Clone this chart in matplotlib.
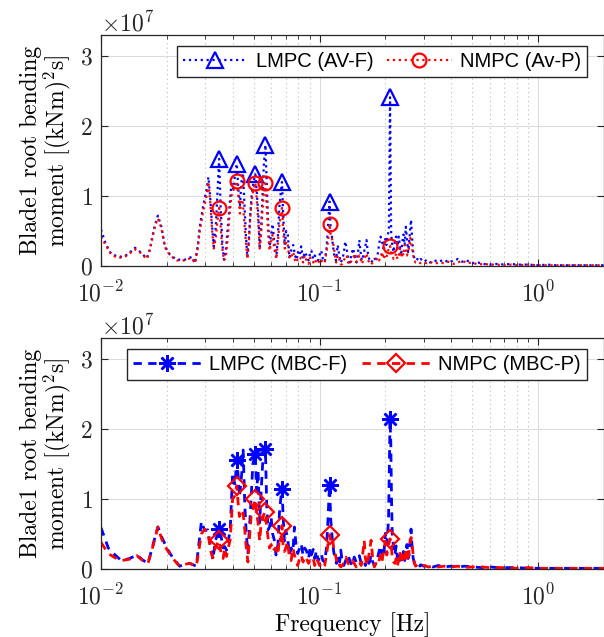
import numpy as np
import matplotlib
matplotlib.use("Agg")
import matplotlib.pyplot as plt
from matplotlib.lines import Line2D
from matplotlib.ticker import LogLocator, NullFormatter

plt.rcParams['font.family'] = 'serif'
plt.rcParams['font.serif'] = ['cmr10']
plt.rcParams['mathtext.fontset'] = 'cm'
plt.rcParams['axes.formatter.use_mathtext'] = True

SCALE = 1e7

# --- top panel: AV cases (values in 1e7 (kNm)^2 s)
f_av = [0.0100, 0.0105, 0.0111, 0.0118, 0.0126, 0.0133, 0.0143, 0.0150, 0.0156, 0.0162,
        0.0167, 0.0172, 0.0177, 0.0182, 0.0189, 0.0196, 0.0207, 0.0222, 0.0242, 0.0260,
        0.0269, 0.0277, 0.0283, 0.0293, 0.0304, 0.0310, 0.0316, 0.0322, 0.0328, 0.0335,
        0.0341, 0.0347, 0.0353, 0.0359, 0.0365, 0.0372, 0.0380, 0.0388, 0.0395, 0.0403,
        0.0410, 0.0418, 0.0425, 0.0432, 0.0439, 0.0446, 0.0453, 0.0460, 0.0467, 0.0474,
        0.0482, 0.0490, 0.0499, 0.0508, 0.0516, 0.0524, 0.0532, 0.0540, 0.0548, 0.0556,
        0.0565, 0.0573, 0.0581, 0.0590, 0.0600, 0.0610, 0.0620, 0.0634, 0.0645, 0.0655,
        0.0664, 0.0673, 0.0682, 0.0693, 0.0703, 0.0715, 0.0728, 0.0745, 0.0757, 0.0772,
        0.0785, 0.0795, 0.0810, 0.0824, 0.0840, 0.0855, 0.0871, 0.0890, 0.0905, 0.0917,
        0.0935, 0.0950, 0.0967, 0.0985, 0.1000, 0.1018, 0.1035, 0.1055, 0.1075, 0.1092,
        0.1110, 0.1125, 0.1136, 0.1150, 0.1170, 0.1190, 0.1210, 0.1230, 0.1250, 0.1270,
        0.1290, 0.1310, 0.1330, 0.1350, 0.1375, 0.1400, 0.1425, 0.1450, 0.1475, 0.1500,
        0.1520, 0.1540, 0.1560, 0.1585, 0.1610, 0.1640, 0.1660, 0.1690, 0.1720, 0.1750,
        0.1780, 0.1810, 0.1840, 0.1870, 0.1900, 0.1930, 0.1960, 0.1990, 0.2020, 0.2050,
        0.2075, 0.2100, 0.2125, 0.2150, 0.2180, 0.2210, 0.2240, 0.2270, 0.2300, 0.2330,
        0.2360, 0.2390, 0.2420, 0.2450, 0.2480, 0.2510, 0.2540, 0.2570, 0.2600, 0.2620,
        0.2650, 0.2680, 0.2710, 0.2750, 0.2800, 0.2850, 0.2900, 0.3000, 0.3100, 0.3200,
        0.3350, 0.3500, 0.3700, 0.3900, 0.4100, 0.4300, 0.4500, 0.4700, 0.5000, 0.5300,
        0.5600, 0.6000, 0.6500, 0.7000, 0.7500, 0.8000, 0.9000, 1.0000, 1.1000, 1.2000,
        1.3500, 1.5000, 1.7000, 2.0000]
lmpc_av = [0.52, 0.32, 0.18, 0.14, 0.13, 0.17, 0.26, 0.21, 0.16, 0.11,
           0.23, 0.43, 0.60, 0.72, 0.56, 0.28, 0.16, 0.09, 0.09, 0.13,
           0.04, 0.28, 0.56, 0.85, 1.09, 1.27, 0.98, 0.58, 0.28, 0.55,
           1.05, 1.53, 0.80, 0.32, 0.09, 0.20, 0.55, 0.90, 1.18, 1.10,
           1.30, 1.46, 1.10, 0.85, 1.20, 1.33, 0.90, 0.45, 0.13, 0.35,
           0.75, 1.05, 1.20, 1.31, 1.05, 0.75, 0.28, 0.55, 1.00, 1.45,
           1.73, 1.20, 0.65, 0.28, 0.45, 0.60, 0.35, 0.12, 0.45, 0.85,
           1.05, 1.20, 0.70, 0.30, 0.50, 0.45, 0.12, 0.25, 0.30, 0.15,
           0.09, 0.20, 0.15, 0.28, 0.10, 0.20, 0.15, 0.08, 0.18, 0.22,
           0.10, 0.15, 0.12, 0.08, 0.16, 0.22, 0.10, 0.06, 0.25, 0.55,
           0.92, 0.50, 0.45, 0.30, 0.12, 0.08, 0.30, 0.15, 0.05, 0.10,
           0.18, 0.35, 0.25, 0.10, 0.05, 0.18, 0.25, 0.12, 0.05, 0.20,
           0.37, 0.20, 0.08, 0.15, 0.25, 0.37, 0.20, 0.08, 0.05, 0.08,
           0.12, 0.06, 0.15, 0.30, 0.42, 0.35, 0.25, 0.40, 0.30, 0.45,
           0.50, 2.41, 0.45, 0.30, 0.20, 0.35, 0.42, 0.25, 0.42, 0.30,
           0.15, 0.35, 0.45, 0.30, 0.56, 0.40, 0.20, 0.35, 0.55, 0.66,
           0.40, 0.20, 0.12, 0.08, 0.10, 0.07, 0.10, 0.06, 0.09, 0.05,
           0.08, 0.06, 0.09, 0.05, 0.08, 0.10, 0.06, 0.08, 0.04, 0.05,
           0.03, 0.02, 0.03, 0.02, 0.03, 0.02, 0.02, 0.01, 0.02, 0.01,
           0.01, 0.01, 0.01, 0.01]
nmpc_av = [0.42, 0.30, 0.17, 0.12, 0.12, 0.16, 0.24, 0.20, 0.15, 0.10,
           0.22, 0.40, 0.58, 0.68, 0.54, 0.27, 0.15, 0.08, 0.08, 0.12,
           0.04, 0.25, 0.50, 0.78, 1.00, 1.20, 0.92, 0.52, 0.25, 0.40,
           0.65, 0.83, 0.55, 0.25, 0.08, 0.12, 0.40, 0.75, 1.00, 1.08,
           1.15, 1.21, 1.00, 0.75, 0.95, 0.90, 0.60, 0.35, 0.10, 0.30,
           0.70, 0.95, 1.10, 1.19, 0.95, 0.65, 0.25, 0.45, 0.80, 1.05,
           1.18, 0.85, 0.50, 0.22, 0.35, 0.45, 0.25, 0.10, 0.35, 0.60,
           0.75, 0.83, 0.50, 0.25, 0.35, 0.30, 0.10, 0.15, 0.20, 0.08,
           0.05, 0.12, 0.10, 0.12, 0.05, 0.15, 0.08, 0.03, 0.12, 0.08,
           0.05, 0.10, 0.05, 0.03, 0.10, 0.08, 0.05, 0.04, 0.20, 0.35,
           0.60, 0.42, 0.40, 0.35, 0.20, 0.05, 0.15, 0.10, 0.02, 0.03,
           0.08, 0.12, 0.15, 0.05, 0.02, 0.08, 0.12, 0.18, 0.06, 0.10,
           0.15, 0.10, 0.03, 0.08, 0.12, 0.18, 0.10, 0.04, 0.02, 0.05,
           0.08, 0.10, 0.12, 0.08, 0.12, 0.20, 0.10, 0.15, 0.12, 0.20,
           0.25, 0.29, 0.20, 0.15, 0.10, 0.12, 0.18, 0.10, 0.15, 0.25,
           0.12, 0.20, 0.15, 0.30, 0.25, 0.15, 0.20, 0.28, 0.40, 0.35,
           0.25, 0.15, 0.08, 0.05, 0.06, 0.05, 0.04, 0.05, 0.04, 0.06,
           0.03, 0.05, 0.04, 0.06, 0.03, 0.05, 0.08, 0.04, 0.05, 0.02,
           0.03, 0.02, 0.02, 0.01, 0.02, 0.01, 0.02, 0.01, 0.01, 0.01,
           0.01, 0.01, 0.01, 0.01]
pk_av = [0.0347, 0.0418, 0.0508, 0.0565, 0.0673, 0.1110, 0.2100]

# --- bottom panel: MBC cases
f_mbc = [0.0100, 0.0108, 0.0116, 0.0124, 0.0135, 0.0146, 0.0155, 0.0164, 0.0173, 0.0182,
         0.0190, 0.0200, 0.0213, 0.0229, 0.0245, 0.0255, 0.0273, 0.0288, 0.0298, 0.0308,
         0.0318, 0.0325, 0.0333, 0.0340, 0.0347, 0.0355, 0.0362, 0.0368, 0.0375, 0.0382,
         0.0390, 0.0400, 0.0410, 0.0418, 0.0425, 0.0430, 0.0440, 0.0447, 0.0455, 0.0462,
         0.0470, 0.0478, 0.0486, 0.0495, 0.0508, 0.0515, 0.0523, 0.0532, 0.0540, 0.0550,
         0.0565, 0.0573, 0.0581, 0.0590, 0.0600, 0.0610, 0.0620, 0.0632, 0.0645, 0.0655,
         0.0664, 0.0673, 0.0680, 0.0690, 0.0700, 0.0714, 0.0728, 0.0741, 0.0755, 0.0767,
         0.0780, 0.0794, 0.0810, 0.0824, 0.0840, 0.0855, 0.0871, 0.0890, 0.0905, 0.0917,
         0.0935, 0.0950, 0.0967, 0.0985, 0.1000, 0.1018, 0.1035, 0.1055, 0.1075, 0.1092,
         0.1110, 0.1125, 0.1145, 0.1160, 0.1175, 0.1195, 0.1215, 0.1235, 0.1250, 0.1270,
         0.1290, 0.1320, 0.1350, 0.1380, 0.1410, 0.1440, 0.1470, 0.1500, 0.1520, 0.1550,
         0.1580, 0.1600, 0.1620, 0.1650, 0.1680, 0.1700, 0.1720, 0.1750, 0.1780, 0.1810,
         0.1840, 0.1870, 0.1900, 0.1930, 0.1960, 0.2000, 0.2030, 0.2067, 0.2083, 0.2100,
         0.2117, 0.2133, 0.2150, 0.2180, 0.2210, 0.2240, 0.2270, 0.2300, 0.2330, 0.2360,
         0.2390, 0.2420, 0.2450, 0.2480, 0.2510, 0.2540, 0.2570, 0.2600, 0.2620, 0.2650,
         0.2680, 0.2710, 0.2750, 0.2800, 0.2850, 0.2900, 0.3000, 0.3150, 0.3300, 0.3500,
         0.3700, 0.4000, 0.4300, 0.4600, 0.5000, 0.5500, 0.6000, 0.6500, 0.7000, 0.8000,
         0.9000, 1.0000, 1.2000, 1.4000, 1.7000, 2.0000]
lmpc_mbc = [0.59, 0.30, 0.20, 0.12, 0.15, 0.20, 0.13, 0.08, 0.35, 0.60,
            0.45, 0.30, 0.16, 0.04, 0.08, 0.08, 0.04, 0.68, 0.55, 0.56,
            0.30, 0.13, 0.40, 0.48, 0.57, 0.45, 0.30, 0.32, 0.27, 0.40,
            0.56, 1.37, 1.20, 1.56, 1.30, 1.03, 1.35, 1.70, 0.90, 0.50,
            0.23, 0.60, 1.00, 1.50, 1.65, 1.10, 1.41, 0.66, 1.10, 1.55,
            1.72, 0.90, 0.56, 0.60, 0.74, 0.50, 0.42, 0.20, 0.35, 0.80,
            1.00, 1.14, 0.80, 0.40, 0.55, 0.45, 0.20, 0.30, 0.25, 0.60,
            0.35, 0.22, 0.30, 0.36, 0.20, 0.30, 0.26, 0.15, 0.30, 0.20,
            0.28, 0.15, 0.26, 0.12, 0.18, 0.22, 0.12, 0.10, 0.30, 0.70,
            1.20, 0.70, 0.40, 0.25, 0.16, 0.08, 0.20, 0.10, 0.27, 0.10,
            0.05, 0.13, 0.20, 0.10, 0.05, 0.17, 0.10, 0.15, 0.19, 0.08,
            0.12, 0.10, 0.05, 0.15, 0.08, 0.12, 0.20, 0.10, 0.05, 0.08,
            0.15, 0.25, 0.33, 0.20, 0.15, 0.51, 0.35, 0.70, 1.45, 2.14,
            1.80, 1.00, 0.50, 0.30, 0.20, 0.33, 0.15, 0.10, 0.20, 0.08,
            0.13, 0.25, 0.12, 0.20, 0.35, 0.15, 0.20, 0.45, 0.57, 0.30,
            0.15, 0.10, 0.05, 0.05, 0.03, 0.06, 0.04, 0.05, 0.03, 0.05,
            0.03, 0.04, 0.03, 0.04, 0.03, 0.02, 0.03, 0.02, 0.02, 0.02,
            0.01, 0.01, 0.01, 0.01, 0.01, 0.01]
nmpc_mbc = [0.38, 0.22, 0.16, 0.12, 0.14, 0.19, 0.12, 0.08, 0.33, 0.60,
            0.42, 0.28, 0.15, 0.04, 0.07, 0.08, 0.04, 0.50, 0.57, 0.52,
            0.25, 0.16, 0.30, 0.36, 0.41, 0.20, 0.15, 0.30, 0.18, 0.30,
            0.42, 1.00, 1.05, 1.19, 0.90, 0.75, 0.85, 0.80, 0.55, 0.30,
            0.10, 0.45, 0.75, 0.85, 1.00, 0.80, 0.66, 0.40, 0.65, 0.75,
            0.82, 0.60, 0.45, 0.30, 0.35, 0.25, 0.28, 0.30, 0.20, 0.45,
            0.40, 0.62, 0.35, 0.25, 0.30, 0.39, 0.15, 0.12, 0.30, 0.20,
            0.12, 0.05, 0.15, 0.20, 0.10, 0.18, 0.15, 0.08, 0.12, 0.10,
            0.15, 0.05, 0.15, 0.10, 0.05, 0.08, 0.03, 0.05, 0.20, 0.35,
            0.49, 0.40, 0.45, 0.30, 0.25, 0.12, 0.15, 0.05, 0.03, 0.05,
            0.10, 0.17, 0.08, 0.05, 0.12, 0.08, 0.03, 0.10, 0.10, 0.05,
            0.25, 0.41, 0.15, 0.05, 0.20, 0.30, 0.41, 0.15, 0.03, 0.08,
            0.05, 0.12, 0.20, 0.10, 0.25, 0.40, 0.20, 0.35, 0.38, 0.43,
            0.40, 0.30, 0.15, 0.10, 0.08, 0.15, 0.05, 0.12, 0.25, 0.10,
            0.20, 0.08, 0.15, 0.30, 0.18, 0.10, 0.30, 0.38, 0.45, 0.35,
            0.20, 0.08, 0.04, 0.06, 0.04, 0.03, 0.05, 0.03, 0.04, 0.03,
            0.04, 0.03, 0.04, 0.02, 0.03, 0.03, 0.02, 0.02, 0.02, 0.01,
            0.02, 0.01, 0.01, 0.01, 0.01, 0.01]
pk_mbc = [0.0347, 0.0418, 0.0508, 0.0565, 0.0673, 0.1110, 0.2100]

ylab = "Blade1 root bending\nmoment [(kNm)$^2$s]"
leg_font = {'family': 'Liberation Sans', 'size': 14.5}

#
def setup_axes(ax):
    ax.set_xscale('log')
    ax.set_xlim(0.01, 2)
    ax.set_ylim(0, 3.3 * SCALE)
    ax.set_yticks([0, 1 * SCALE, 2 * SCALE, 3 * SCALE])
    ax.xaxis.set_minor_locator(LogLocator(base=10, subs=np.arange(2, 10)))
    ax.xaxis.set_minor_formatter(NullFormatter())
    ax.grid(True, which='major', color='#dcdcdc', lw=0.8, ls='-')
    ax.grid(True, which='minor', axis='x', color='#bdbdbd', lw=0.8, ls=(0, (1, 3)))
    ax.set_axisbelow(True)
    ax.tick_params(which='both', direction='in', top=True, right=True,
                   colors='#262626', labelsize=17)
    ax.tick_params(axis='y', pad=6)
    ax.tick_params(axis='x', pad=11)
    ax.tick_params(which='major', length=5, width=0.8)
    ax.tick_params(which='minor', length=3, width=0.6)
    ax.yaxis.get_offset_text().set_fontsize(17)
    for s in ax.spines.values():
        s.set_color('#262626')
        s.set_linewidth(0.9)
    ax.set_ylabel(ylab, fontsize=17, linespacing=1.0, labelpad=5)

fig = plt.figure(figsize=(6.04, 6.37), dpi=100)

#
ax1 = fig.add_axes([101 / 604, 1 - 266 / 637, 503 / 604, 231 / 637])
setup_axes(ax1)
v1 = np.array(lmpc_av) * SCALE
v2 = np.array(nmpc_av) * SCALE
i_av = [f_av.index(f) for f in pk_av]
ax1.plot(f_av, v1, color='b', ls=':', lw=1.6)
ax1.plot(f_av, v2, color='r', ls=':', lw=1.6)
ax1.plot(np.array(f_av)[i_av], v1[i_av], ls='none', marker='^', ms=11,
         mfc='none', mec='b', mew=1.6)
ax1.plot(np.array(f_av)[i_av], v2[i_av], ls='none', marker='o', ms=10,
         mfc='none', mec='r', mew=1.6)
h1 = [Line2D([], [], color='b', ls=':', lw=1.6, marker='^', ms=11, mfc='none', mew=1.6),
      Line2D([], [], color='r', ls=':', lw=1.6, marker='o', ms=10, mfc='none', mew=1.6)]
ax1.legend(h1, ["LMPC (AV-F)", "NMPC (Av-P)"], ncol=2, prop=leg_font,
           loc='upper right', bbox_to_anchor=(0.966, 0.952), borderaxespad=0,
           fancybox=False, framealpha=1, edgecolor='#262626', handlelength=3.2,
           handletextpad=0.4, columnspacing=0.7, borderpad=0.3)

#
ax2 = fig.add_axes([101 / 604, 1 - 569 / 637, 503 / 604, 231 / 637])
setup_axes(ax2)
w1 = np.array(lmpc_mbc) * SCALE
w2 = np.array(nmpc_mbc) * SCALE
i_mbc = [f_mbc.index(f) for f in pk_mbc]
dash = (0, (3.0, 2.3))
ax2.plot(f_mbc, w1, color='b', ls=dash, lw=2)
ax2.plot(f_mbc, w2, color='r', ls=dash, lw=2)
ax2.plot(np.array(f_mbc)[i_mbc], w1[i_mbc], ls='none', marker=(8, 2, 0), ms=12,
         mec='b', mew=1.8)
ax2.plot(np.array(f_mbc)[i_mbc], w2[i_mbc], ls='none', marker='D', ms=9,
         mfc='none', mec='r', mew=1.6)
h2 = [Line2D([], [], color='b', ls=dash, lw=2, marker=(8, 2, 0), ms=12, mew=1.8),
      Line2D([], [], color='r', ls=dash, lw=2, marker='D', ms=9, mfc='none', mew=1.6)]
ax2.legend(h2, ["LMPC (MBC-F)", "NMPC (MBC-P)"], ncol=2, prop=leg_font,
           loc='upper right', bbox_to_anchor=(0.966, 0.952), borderaxespad=0,
           fancybox=False, framealpha=1, edgecolor='#262626', handlelength=3.4,
           handletextpad=0.4, columnspacing=0.7, borderpad=0.3)
ax2.set_xlabel("Frequency [Hz]", fontsize=17, labelpad=2)

fig.savefig("out.png", dpi=100)
